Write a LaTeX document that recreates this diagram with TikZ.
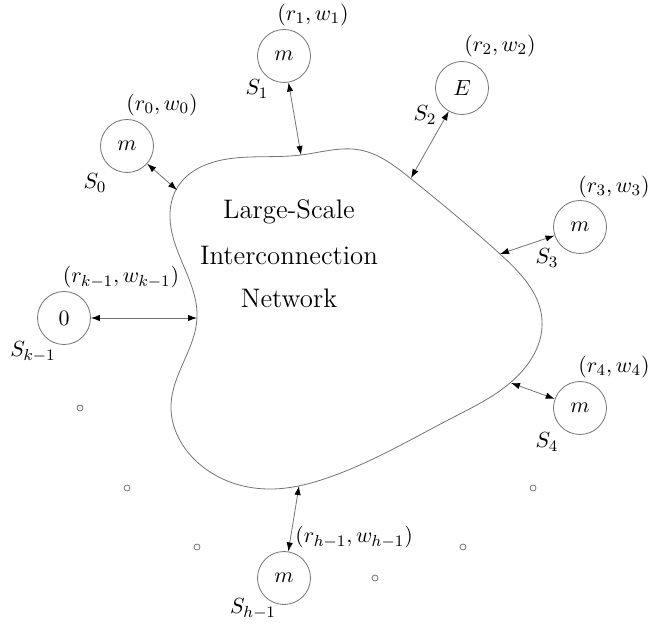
\documentclass[tikz,border=0pt]{standalone}
\usetikzlibrary{arrows.meta,hobby}
\begin{document}
\begin{tikzpicture}[x=0.5pt,y=-0.5pt,
  line/.style={draw=black!55, line width=0.4pt},
  station/.style={circle, draw=black!55, line width=0.4pt, minimum size=26.5pt, inner sep=0pt, font=\fontsize{11.2}{14}\selectfont},
  link/.style={draw=black!55, line width=0.4pt, {Latex[length=4.5pt,width=3.2pt,black]}-{Latex[length=4.5pt,width=3.2pt,black]}},
  dot/.style={circle, draw=black!55, line width=0.4pt, minimum size=3pt, inner sep=0pt},
  lbl/.style={inner sep=0pt, font=\fontsize{11}{14}\selectfont},
  title/.style={inner sep=0pt, font=\fontsize{13.4}{16}\selectfont}]
\useasboundingbox (0,0) rectangle (653,624);

% network blob
\draw[line, use Hobby shortcut, closed=true]
 (177,188) .. (235,158) .. (301,155) .. (360,150) .. (410,178)
 .. (500,254) .. (542,320) .. (510,383) .. (452,418) .. (330,477) .. (267,489)
 .. (195,460) .. (171,405) .. (197,318) .. (171,228);

\node[title] (t1) at (289,212) {Large-Scale};
\node[title] (t2) at (289,255) {Interconnection};
\node[title] (t3) at (289,298) {Network};

% blob attachment points
\coordinate (b0) at (177,190);
\coordinate (b1) at (301,155);
\coordinate (b2) at (411,178);
\coordinate (b3) at (500,254);
\coordinate (bk) at (197,318);
\coordinate (b4) at (511,383);
\coordinate (bh) at (299,486);

% stations
\node[station] (S0) at (127,146) {$m$};
\node[station] (S1) at (284,56) {$m$};
\node[station] (S2) at (462,88) {$E$};
\node[station] (S3) at (580,227) {$m$};
\node[station] (Sk) at (64,318) {$0$};
\node[station] (S4) at (580,408) {$m$};
\node[station] (Sh) at (284,578) {$m$};

% links
\draw[link] (S0) -- (b0);
\draw[link] (S1) -- (b1);
\draw[link] (S2) -- (b2);
\draw[link] (S3) -- (b3);
\draw[link] (Sk) -- (bk);
\draw[link] (S4) -- (b4);
\draw[link] (Sh) -- (bh);

% labels
\node[lbl] (l0) at (162,105) {$(r_0,w_0)$};
\node[lbl] (n0) at (95,183) {$S_0$};
\node[lbl] (l1) at (313,15) {$(r_1,w_1)$};
\node[lbl] (n1) at (257,89) {$S_1$};
\node[lbl] (l2) at (500,46) {$(r_2,w_2)$};
\node[lbl] (n2) at (425,115) {$S_2$};
\node[lbl] (l3) at (614,187) {$(r_3,w_3)$};
\node[lbl] (n3) at (547,258) {$S_3$};
\node[lbl] (lk) at (121,277) {$(r_{k-1},w_{k-1})$};
\node[lbl] (nk) at (33,352) {$S_{k-1}$};
\node[lbl] (l4) at (614,367) {$(r_4,w_4)$};
\node[lbl] (n4) at (547,442) {$S_4$};
\node[lbl, anchor=west] (lh) at (295,537) {$(r_{h-1},w_{h-1})$};
\node[lbl] (nh) at (253,609) {$S_{h-1}$};

% dots
\node[dot] (d1) at (80,408) {};
\node[dot] (d2) at (127,488) {};
\node[dot] (d3) at (197,547) {};
\node[dot] (d4) at (375,578) {};
\node[dot] (d5) at (463,547) {};
\node[dot] (d6) at (533,488) {};
\end{tikzpicture}
\end{document}
